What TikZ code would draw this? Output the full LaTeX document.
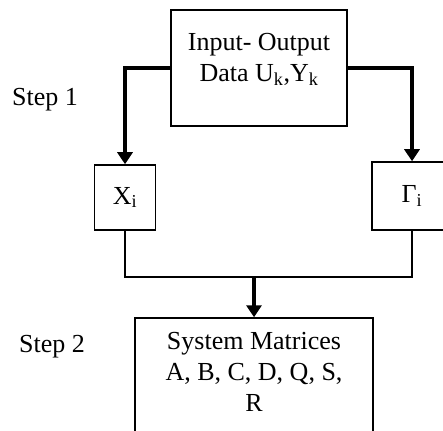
\documentclass[tikz,border=0pt]{standalone}
\usepackage{fontspec}
\setmainfont{Liberation Serif}
\usetikzlibrary{arrows.meta,positioning}
\tikzset{
  >={Triangle[length=12pt,width=15pt]},
  box/.style={draw,line width=1.5pt,inner sep=0pt},
  lbl/.style={font=\fontsize{26}{31}\selectfont,align=center},
  flow/.style={->,line width=4pt},
  link/.style={line width=1.5pt},
}

\begin{document}
\begin{tikzpicture}[x=1pt,y=-1pt]
  \useasboundingbox (0,0) rectangle (443,430);
  \clip (0,0) rectangle (443,430);
  % boxes
  \node[box,minimum width=176pt,minimum height=116pt] (io) at (259,68) {};
  \node[lbl] (iotext) at (259,59) {Input- Output\\Data U\textsubscript{k},Y\textsubscript{k}};
  \node[box,lbl,minimum width=61pt,minimum height=65pt] (xi) at (125,197.5) {X\textsubscript{i}};
  \node[box,lbl,minimum width=80pt,minimum height=68pt] (gam) at (412,196) {Γ\textsubscript{i}};
  \node[box,minimum width=238pt,minimum height=150pt] (sys) at (254,393) {};
  \node[lbl] (systext) at (254,372) {System Matrices\\A, B, C, D, Q, S,\\R};
  % step labels
  \node[lbl] (step1) at (45,100) {Step 1};
  \node[lbl] (step2) at (52,347) {Step 2};
  % connectors
  \draw[flow] (io.west) -| (xi.north);
  \draw[flow] (io.east) -| (gam.north);
  \coordinate (join) at (254,277);
  \draw[link] (xi.south) |- (join) -| (gam.south);
  \draw[flow] (join) -- (sys.north);
\end{tikzpicture}
\end{document}
